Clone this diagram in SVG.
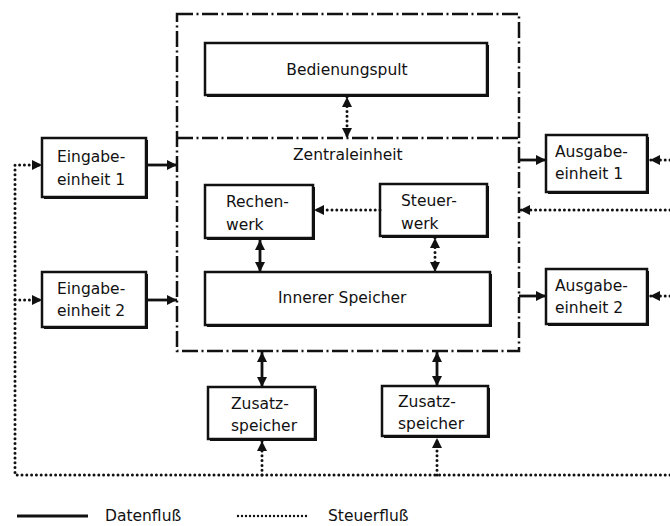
<svg xmlns="http://www.w3.org/2000/svg" width="670" height="526" viewBox="0 0 670 526">
<defs>
<style>
.box{fill:#fff;stroke:#111;stroke-width:2.5}
.sh{fill:#111}
.t{font-family:"DejaVu Sans",sans-serif;font-size:15.5px;fill:#111}
.solid{fill:none;stroke:#111;stroke-width:2.8}
.dot{fill:none;stroke:#111;stroke-width:3;stroke-dasharray:0 4.8;stroke-linecap:round}
.frame{fill:none;stroke:#111;stroke-width:2.5;stroke-dasharray:16 3.5 2 3.5}
</style>
<marker id="ah" viewBox="0 0 10 10" refX="10" refY="5" markerWidth="10" markerHeight="10" markerUnits="userSpaceOnUse" orient="auto-start-reverse"><path d="M0,0 L10,5 L0,10 z" fill="#111"/></marker>
</defs>
<rect width="670" height="526" fill="#fff"/>

<g id="zentraleinheit">
<rect class="frame" x="177" y="14" width="342" height="337"/>
<line class="frame" x1="177" y1="138" x2="519" y2="138"/>
<text class="t" x="293" y="160">Zentraleinheit</text>
</g>

<g id="bedienungspult">
<rect class="sh" x="207" y="45" width="282" height="52"/>
<rect class="box" x="205" y="43" width="282" height="52"/>
<text class="t" x="347" y="75" text-anchor="middle">Bedienungspult</text>
</g>

<g id="rechenwerk">
<rect class="sh" x="207" y="187" width="108" height="53"/>
<rect class="box" x="205" y="185" width="108" height="53"/>
<text class="t" x="226" y="207">Rechen-</text>
<text class="t" x="226" y="230">werk</text>
</g>

<g id="steuerwerk">
<rect class="sh" x="382" y="186" width="107" height="52"/>
<rect class="box" x="380" y="184" width="107" height="52"/>
<text class="t" x="401" y="206">Steuer-</text>
<text class="t" x="401" y="229">werk</text>
</g>

<g id="innerer-speicher">
<rect class="sh" x="207" y="274" width="285" height="53"/>
<rect class="box" x="205" y="272" width="285" height="53"/>
<text class="t" x="278" y="303">Innerer Speicher</text>
</g>

<g id="eingabe1">
<rect class="sh" x="44" y="140" width="104" height="59"/>
<rect class="box" x="42" y="138" width="104" height="59"/>
<text class="t" x="57" y="162">Eingabe-</text>
<text class="t" x="57" y="185">einheit 1</text>
</g>

<g id="eingabe2">
<rect class="sh" x="44" y="274" width="104" height="55"/>
<rect class="box" x="42" y="272" width="104" height="55"/>
<text class="t" x="57" y="294">Eingabe-</text>
<text class="t" x="57" y="316">einheit 2</text>
</g>

<g id="ausgabe1">
<rect class="sh" x="548" y="137" width="101" height="57"/>
<rect class="box" x="546" y="135" width="101" height="57"/>
<text class="t" x="555" y="157">Ausgabe-</text>
<text class="t" x="555" y="179">einheit 1</text>
</g>

<g id="ausgabe2">
<rect class="sh" x="548" y="271" width="101" height="55"/>
<rect class="box" x="546" y="269" width="101" height="55"/>
<text class="t" x="555" y="291">Ausgabe-</text>
<text class="t" x="555" y="313">einheit 2</text>
</g>

<g id="zusatzspeicher1">
<rect class="sh" x="210" y="389" width="107" height="52"/>
<rect class="box" x="208" y="387" width="107" height="52"/>
<text class="t" x="231" y="409">Zusatz-</text>
<text class="t" x="231" y="431">speicher</text>
</g>

<g id="zusatzspeicher2">
<rect class="sh" x="384" y="388" width="106" height="50"/>
<rect class="box" x="382" y="386" width="106" height="50"/>
<text class="t" x="398" y="407">Zusatz-</text>
<text class="t" x="398" y="429">speicher</text>
</g>

<g id="connectors">
<line class="solid" x1="146" y1="165" x2="177" y2="165" marker-end="url(#ah)"/>
<line class="solid" x1="146" y1="300" x2="177" y2="300" marker-end="url(#ah)"/>
<line class="solid" x1="519" y1="160" x2="546" y2="160" marker-end="url(#ah)"/>
<line class="solid" x1="519" y1="296" x2="546" y2="296" marker-end="url(#ah)"/>
<line class="solid" x1="260" y1="240" x2="260" y2="272" marker-start="url(#ah)" marker-end="url(#ah)"/>
<line class="solid" x1="262" y1="352" x2="262" y2="387" marker-start="url(#ah)" marker-end="url(#ah)"/>
<line class="solid" x1="437" y1="352" x2="437" y2="386" marker-start="url(#ah)" marker-end="url(#ah)"/>

<line class="dot" x1="347" y1="97" x2="347" y2="138" marker-start="url(#ah)" marker-end="url(#ah)"/>
<line class="dot" x1="380" y1="210" x2="314" y2="210" marker-end="url(#ah)"/>
<line class="dot" x1="435" y1="238" x2="435" y2="272" marker-start="url(#ah)" marker-end="url(#ah)"/>
<line class="dot" x1="670" y1="210" x2="520" y2="210" marker-end="url(#ah)"/>
<line class="dot" x1="670" y1="160" x2="650" y2="160" marker-end="url(#ah)"/>
<line class="dot" x1="670" y1="296" x2="650" y2="296" marker-end="url(#ah)"/>
<path class="dot" d="M670,475 H15 V165 H42" marker-end="url(#ah)"/>
<line class="dot" x1="15" y1="300" x2="42" y2="300" marker-end="url(#ah)"/>
<line class="dot" x1="262" y1="475" x2="262" y2="441" marker-end="url(#ah)"/>
<line class="dot" x1="437" y1="475" x2="437" y2="438" marker-end="url(#ah)"/>
</g>

<g id="legend">
<line x1="17" y1="516" x2="88" y2="516" stroke="#111" stroke-width="3"/>
<text class="t" x="105" y="521">Datenfluß</text>
<line class="dot" x1="238" y1="516" x2="310" y2="516" style="stroke-dasharray:0 4;stroke-width:2.4"/>
<text class="t" x="328" y="521">Steuerfluß</text>
</g>
</svg>
